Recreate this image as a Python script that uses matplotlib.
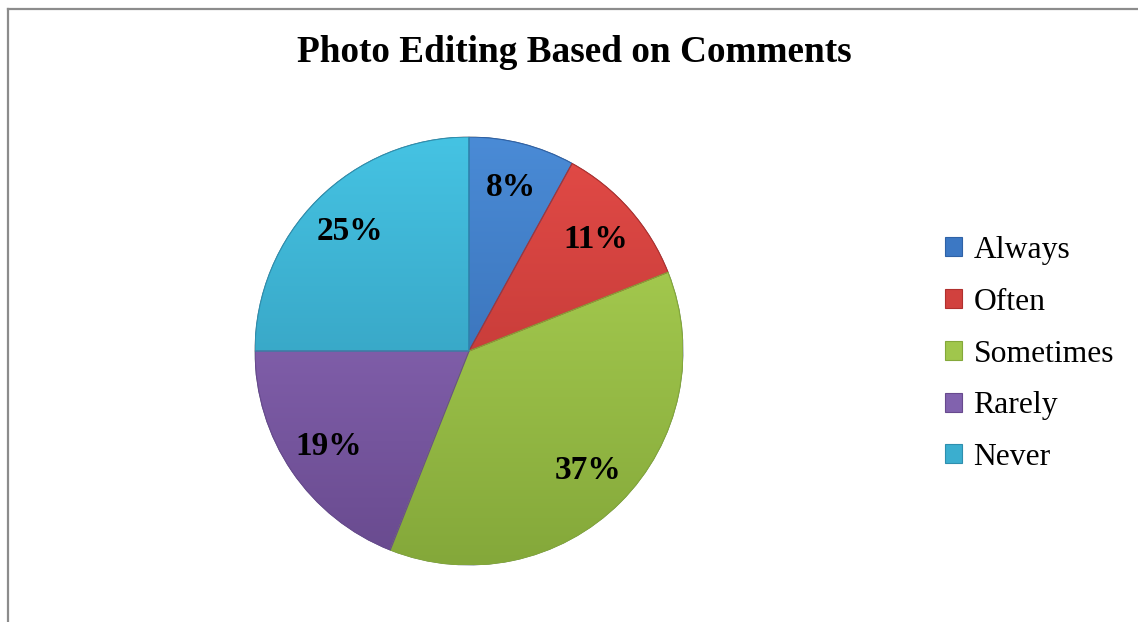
import numpy as np
import matplotlib
matplotlib.use("Agg")
import matplotlib.pyplot as plt
from matplotlib.lines import Line2D
from matplotlib.colors import LinearSegmentedColormap
from matplotlib.patches import Patch, Wedge

categories = ["Always", "Often", "Sometimes", "Rarely", "Never"]
values = [8, 11, 37, 19, 25]
title = "Photo Editing Based on Comments"

light = ["#4A8BD6", "#E34B47", "#B0D656", "#9570C2", "#45C3E3"]
dark = ["#2F62A6", "#B0302E", "#84A83A", "#684A8E", "#2E8FAE"]
mid = ["#3C78C4", "#D1413E", "#A0C64C", "#8162AE", "#3BAECF"]

W, H = 1138, 622
fig = plt.figure(figsize=(W / 100, H / 100), dpi=100)
fig.patch.set_facecolor("white")

cx, cy, R = 469, 351, 214
ax = fig.add_axes([(cx - R) / W, (H - cy - R) / H, 2 * R / W, 2 * R / H])
wedges, texts, autotexts = ax.pie(
    values, startangle=90, counterclock=False, radius=1,
    colors=mid, autopct="%d%%", pctdistance=0.79,
    wedgeprops=dict(edgecolor="#5a6a7a", linewidth=0.6),
    textprops=dict(family="Liberation Serif", fontweight="bold", fontsize=24, color="black"),
)
ax.set_aspect("equal")
ax.axis("off")

grad = np.linspace(0, 1, 256).reshape(-1, 1)
for w, lc, dc in zip(wedges, light, dark):
    cmap = LinearSegmentedColormap.from_list("g", [lc, dc])
    im = ax.imshow(grad, extent=(-1, 1, -1, 1), origin="upper", cmap=cmap,
                   aspect="auto", zorder=w.get_zorder() + 0.1)
    im.set_clip_path(w)
    edge = Wedge((0, 0), 1, w.theta1, w.theta2, facecolor="none",
                 edgecolor=dc, linewidth=0.8, zorder=w.get_zorder() + 0.2)
    ax.add_patch(edge)
for t in autotexts:
    t.set_zorder(10)
ax.set_xlim(-1, 1)
ax.set_ylim(-1, 1)

fig.text(574 / W, 1 - 52 / H, title, ha="center", va="center",
         family="Liberation Serif", fontweight="bold", fontsize=26.8)

handles = [Patch(facecolor=c, edgecolor=d, linewidth=0.8) for c, d in zip(mid, dark)]
fig.legend(handles, categories, loc="center left", bbox_to_anchor=(945 / W, 1 - 354 / H),
           frameon=False, prop=dict(family="Liberation Serif", size=22.8),
           handlelength=0.55, handleheight=0.55, handletextpad=0.35, labelspacing=0.72,
           borderaxespad=0, borderpad=0)

fig.add_artist(Line2D([8 / W, 1], [1 - 9 / H, 1 - 9 / H], color="#8c8c8c", linewidth=1.6,
                      transform=fig.transFigure))
fig.add_artist(Line2D([8 / W, 8 / W], [1 - 9 / H, 0], color="#8c8c8c", linewidth=1.6,
                      transform=fig.transFigure))

fig.savefig("out.png", dpi=100)
